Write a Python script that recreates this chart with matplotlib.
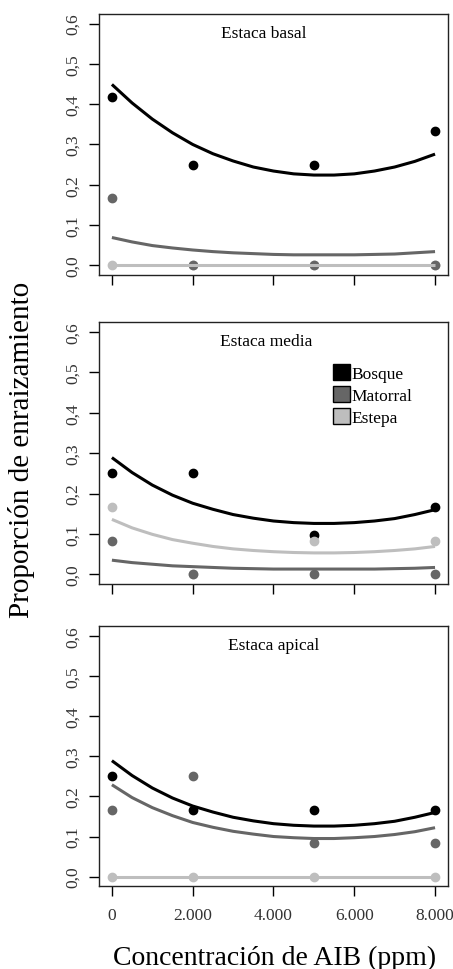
import matplotlib
matplotlib.use("Agg")
import matplotlib.pyplot as plt
from matplotlib.patches import Patch

plt.rcParams['font.family'] = ['Liberation Serif', 'DejaVu Serif']

# --- observed proportions (AIB concentration in ppm) ---
conc = [0, 2000, 5000, 8000]

basal_bosque = [0.417, 0.25, 0.25, 0.333]
basal_matorral = [0.167, 0.0, 0.0, 0.0]
basal_estepa = [0.0, 0.0, 0.0, 0.0]

media_bosque = [0.25, 0.25, 0.097, 0.167]
media_matorral = [0.083, 0.0, 0.0, 0.0]
media_estepa = [0.167, 0.0, 0.083, 0.083]

apical_bosque = [0.25, 0.167, 0.167, 0.167]
apical_matorral = [0.167, 0.25, 0.083, 0.083]
apical_estepa = [0.0, 0.0, 0.0, 0.0]

# --- fitted curves, every 500 ppm ---
curve_x = [0, 500, 1000, 1500, 2000, 2500, 3000, 3500, 4000,
           4500, 5000, 5500, 6000, 6500, 7000, 7500, 8000]

fit_basal_bosque = [0.449, 0.403, 0.363, 0.329, 0.300, 0.277, 0.259, 0.244, 0.234,
                    0.227, 0.224, 0.224, 0.227, 0.234, 0.244, 0.258, 0.276]
fit_basal_matorral = [0.069, 0.058, 0.049, 0.043, 0.038, 0.034, 0.031, 0.029, 0.027,
                      0.026, 0.026, 0.026, 0.026, 0.027, 0.028, 0.031, 0.034]
fit_basal_estepa = [0.0] * 17

fit_media_bosque = [0.289, 0.252, 0.221, 0.196, 0.176, 0.161, 0.148, 0.139, 0.132,
                    0.128, 0.126, 0.126, 0.128, 0.132, 0.138, 0.148, 0.160]
fit_media_matorral = [0.035, 0.029, 0.025, 0.021, 0.019, 0.017, 0.015, 0.014, 0.013,
                      0.013, 0.013, 0.013, 0.013, 0.013, 0.014, 0.015, 0.017]
fit_media_estepa = [0.136, 0.115, 0.099, 0.086, 0.077, 0.069, 0.063, 0.059, 0.056,
                    0.054, 0.053, 0.053, 0.054, 0.056, 0.059, 0.063, 0.069]

fit_apical_bosque = [0.289, 0.252, 0.221, 0.196, 0.176, 0.161, 0.148, 0.139, 0.132,
                     0.128, 0.126, 0.126, 0.128, 0.132, 0.138, 0.148, 0.160]
fit_apical_matorral = [0.229, 0.197, 0.172, 0.152, 0.135, 0.123, 0.113, 0.106, 0.100,
                       0.097, 0.095, 0.095, 0.097, 0.100, 0.105, 0.112, 0.122]
fit_apical_estepa = [0.0] * 17

groups = ['Bosque', 'Matorral', 'Estepa']
colors = {'Bosque': 'black', 'Matorral': '#666666', 'Estepa': '#BEBEBE'}

x_ticks = [0, 2000, 4000, 6000, 8000]
x_ticklabels = ['0', '2.000', '4.000', '6.000', '8.000']
y_ticks = [0.0, 0.1, 0.2, 0.3, 0.4, 0.5, 0.6]
y_ticklabels = ['0,0', '0,1', '0,2', '0,3', '0,4', '0,5', '0,6']

panels = [
    ('Estaca basal', 3750,
     {'Bosque': basal_bosque, 'Matorral': basal_matorral, 'Estepa': basal_estepa},
     {'Bosque': fit_basal_bosque, 'Matorral': fit_basal_matorral, 'Estepa': fit_basal_estepa}),
    ('Estaca media', 3820,
     {'Bosque': media_bosque, 'Matorral': media_matorral, 'Estepa': media_estepa},
     {'Bosque': fit_media_bosque, 'Matorral': fit_media_matorral, 'Estepa': fit_media_estepa}),
    ('Estaca apical', 4000,
     {'Bosque': apical_bosque, 'Matorral': apical_matorral, 'Estepa': apical_estepa},
     {'Bosque': fit_apical_bosque, 'Matorral': fit_apical_matorral, 'Estepa': fit_apical_estepa}),
]

fig = plt.figure(figsize=(4.53, 9.70), dpi=100)
axes_rects = [
    [0.2185, 0.7155, 0.7704, 0.2691],
    [0.2185, 0.3969, 0.7704, 0.2698],
    [0.2185, 0.0853, 0.7704, 0.2680],
]

for i, (title, title_x, pts, fits) in enumerate(panels):
    ax = fig.add_axes(axes_rects[i])

    # points first (order matters for overlaps), then fitted lines
    for g in ['Bosque', 'Estepa', 'Matorral']:
        ax.plot(conc, pts[g], 'o', color=colors[g], ms=6, mec=colors[g], zorder=2)
    for g in ['Bosque', 'Matorral', 'Estepa']:
        ax.plot(curve_x, fits[g], '-', color=colors[g], lw=2.2, zorder=3,
                solid_capstyle='butt')

    ax.set_xlim(-320, 8320)
    ax.set_ylim(-0.024, 0.624)
    ax.set_xticks(x_ticks)
    ax.set_yticks(y_ticks)
    ax.set_yticklabels(y_ticklabels, rotation=90, va='center')
    if i == 2:
        ax.set_xticklabels(x_ticklabels)
    else:
        ax.set_xticklabels([])
    ax.tick_params(axis='both', direction='out', length=7, width=1,
                   labelsize=12.5, labelcolor='#333333')
    ax.tick_params(axis='y', pad=6)
    ax.tick_params(axis='x', pad=8)
    for sp in ax.spines.values():
        sp.set_linewidth(1.0)
        sp.set_color('#222222')

    ax.text(title_x, 0.577, title, ha='center', va='center', fontsize=12.5)

    if i == 1:
        handles = [Patch(facecolor=colors[g], edgecolor='black', lw=1) for g in groups]
        ax.legend(handles, groups, loc='upper left', bbox_to_anchor=(0.66, 0.853),
                  frameon=False, fontsize=12.5, handlelength=1.0, handleheight=1.0,
                  handletextpad=0.1, labelspacing=0.25, borderpad=0.2,
                  borderaxespad=0.0)

fig.text(0.048, 0.536, 'Proporción de enraizamiento', rotation=90,
         ha='center', va='center', fontsize=21)
fig.text(0.605, 0.012, 'Concentración de AIB (ppm)', ha='center', va='center',
         fontsize=20)

fig.savefig('out.png', dpi=100)
